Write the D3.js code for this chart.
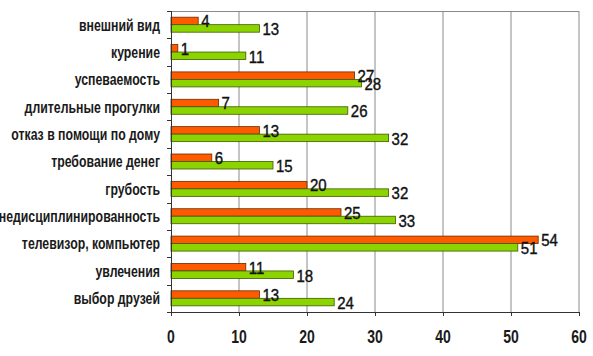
<!DOCTYPE html>
<html><head><meta charset="utf-8">
<script src="https://cdn.jsdelivr.net/npm/d3@7"></script>
<style>body{margin:0;background:#fff}svg{display:block}</style>
</head><body>
<svg id="c" width="593" height="356"></svg>
<script>
const categories = ["внешний вид","курение","успеваемость","длительные прогулки","отказ в помощи по дому","требование денег","грубость","недисциплинированность","телевизор, компьютер","увлечения","выбор друзей"];
const seriesOrange = [4,1,27,7,13,6,20,25,54,11,13];
const seriesGreen = [13,11,28,26,32,15,32,33,51,18,24];
const xTicks = [0,10,20,30,40,50,60];

const svg = d3.select("#c");
const x = d3.scaleLinear().domain([0,60]).range([171,579]);
const y = d3.scaleBand().domain(categories).range([11,312]).padding(0);
const bh = 7.5;
const stretch = 1.35;

// grid lines
svg.append("g").selectAll("line").data(xTicks.filter(d=>d>0)).join("line")
  .attr("x1",d=>x(d)).attr("x2",d=>x(d)).attr("y1",11).attr("y2",312)
  .attr("stroke","#8a8a8a").attr("stroke-width",1);
// top frame
svg.append("line").attr("x1",171).attr("x2",579).attr("y1",11.5).attr("y2",11.5).attr("stroke","#8a8a8a");

// bars
const g = svg.append("g");
g.selectAll(".o").data(categories).join("rect")
  .attr("x",x(0)).attr("y",(d)=>y(d)+y.bandwidth()/2-bh)
  .attr("width",(d,i)=>x(seriesOrange[i])-x(0)).attr("height",bh)
  .attr("fill","#ff5a00").attr("stroke","#6a2a00").attr("stroke-width",0.8);
g.selectAll(".g").data(categories).join("rect")
  .attr("x",x(0)).attr("y",(d)=>y(d)+y.bandwidth()/2)
  .attr("width",(d,i)=>x(seriesGreen[i])-x(0)).attr("height",bh)
  .attr("fill","#8cd400").attr("stroke","#3d5a00").attr("stroke-width",0.8);

// value labels
function vlabel(vals, off){
  svg.append("g").selectAll("text").data(categories).join("text")
    .attr("transform",(d,i)=>`translate(${x(vals[i])+3},${y(d)+y.bandwidth()/2+off}) scale(1,1.12)`)
    .attr("font-family","Liberation Sans, Arial, sans-serif").attr("font-size",15)
    .attr("fill","#111").attr("stroke","#111").attr("stroke-width",0.35).attr("dy","0.36em")
    .text((d,i)=>vals[i]);
}
vlabel(seriesOrange,-3.5);
vlabel(seriesGreen,4.5);

// axes lines
svg.append("line").attr("x1",171.5).attr("x2",171.5).attr("y1",11).attr("y2",312).attr("stroke","#333");
svg.append("line").attr("x1",171).attr("x2",579).attr("y1",312.5).attr("y2",312.5).attr("stroke","#333");
// y ticks at band boundaries
const bounds = categories.map(d=>y(d)).concat([312]);
svg.append("g").selectAll("line").data(bounds).join("line")
  .attr("x1",167).attr("x2",171).attr("y1",d=>Math.round(d)+0.5).attr("y2",d=>Math.round(d)+0.5).attr("stroke","#333");
// x ticks
svg.append("g").selectAll("line").data(xTicks).join("line")
  .attr("x1",d=>Math.round(x(d))+0.5).attr("x2",d=>Math.round(x(d))+0.5).attr("y1",312).attr("y2",316).attr("stroke","#333");

// x tick labels
svg.append("g").selectAll("text").data(xTicks).join("text")
  .attr("transform",d=>`translate(${x(d)},${336}) scale(1,${stretch})`)
  .attr("text-anchor","middle").attr("dy","0.35em")
  .attr("font-family","Liberation Sans, Arial, sans-serif").attr("font-weight","bold").attr("font-size",14)
  .attr("fill","#1a1a1a").text(d=>d);

// category labels
svg.append("g").selectAll("text").data(categories).join("text")
  .attr("transform",d=>`translate(160,${y(d)+y.bandwidth()/2}) scale(1,${stretch})`)
  .attr("text-anchor","end").attr("dy","0.35em")
  .attr("font-family","Liberation Sans, Arial, sans-serif").attr("font-weight","bold").attr("font-size",12.3)
  .attr("fill","#1a1a1a").text(d=>d);
</script>
</body></html>
